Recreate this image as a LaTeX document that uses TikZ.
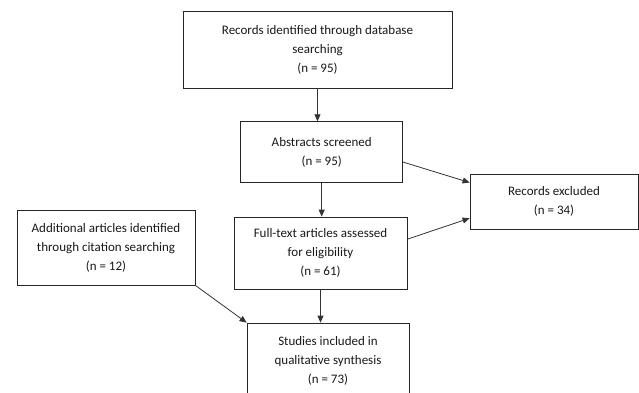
\documentclass[tikz,border=0pt]{standalone}
\usepackage{fontspec}
\setmainfont{Carlito}
\usetikzlibrary{arrows.meta,calc}
\tikzset{
  box/.style={draw=black!85, line width=0.8pt, fill=white, inner sep=0pt, align=center,
    font=\fontsize{13}{19}\selectfont, text=black!90},
  arr/.style={draw=black!80, line width=0.8pt, -{Triangle[length=7pt,width=6pt]}}
}
\begin{document}
\begin{tikzpicture}[x=1pt,y=-1pt]
\clip (0,0) rectangle (639,392);
\fill[white] (0,0) rectangle (639,392);
\node[box, minimum width=269pt, minimum height=77pt] (b1) at (317.5,49.5)
  {Records identified through database\\searching\\(n = 95)};
\node[box, minimum width=162pt, minimum height=61pt] (b2) at (321.7,152.2)
  {Abstracts screened\\(n = 95)};
\node[box, minimum width=168pt, minimum height=55pt] (ex) at (554,201.5)
  {Records excluded\\(n = 34)};
\node[box, minimum width=178pt, minimum height=75pt] (add) at (106,247.5)
  {Additional articles identified\\through citation searching\\(n = 12)};
\node[box, minimum width=173pt, minimum height=72pt] (b3) at (320.5,253)
  {Full-text articles assessed\\for eligibility\\(n = 61)};
\node[box, minimum width=162pt, minimum height=76pt] (b4) at (328,361)
  {Studies included in\\qualitative synthesis\\(n = 73)};
\draw[arr] (b1.south) -- (b1.south |- b2.north);
\draw[arr] (b2.south) -- (b2.south |- b3.north);
\draw[arr] (b3.south) -- (b3.south |- b4.north);
\draw[arr] ($(b2.south east)!0.34!(b2.north east)$) -- ($(ex.south west)!0.84!(ex.north west)$);
\draw[arr] ($(b3.south east)!0.69!(b3.north east)$) -- ($(ex.south west)!0.2!(ex.north west)$);
\draw[arr] (add.south east) -- (b4.north west);
\end{tikzpicture}
\end{document}
